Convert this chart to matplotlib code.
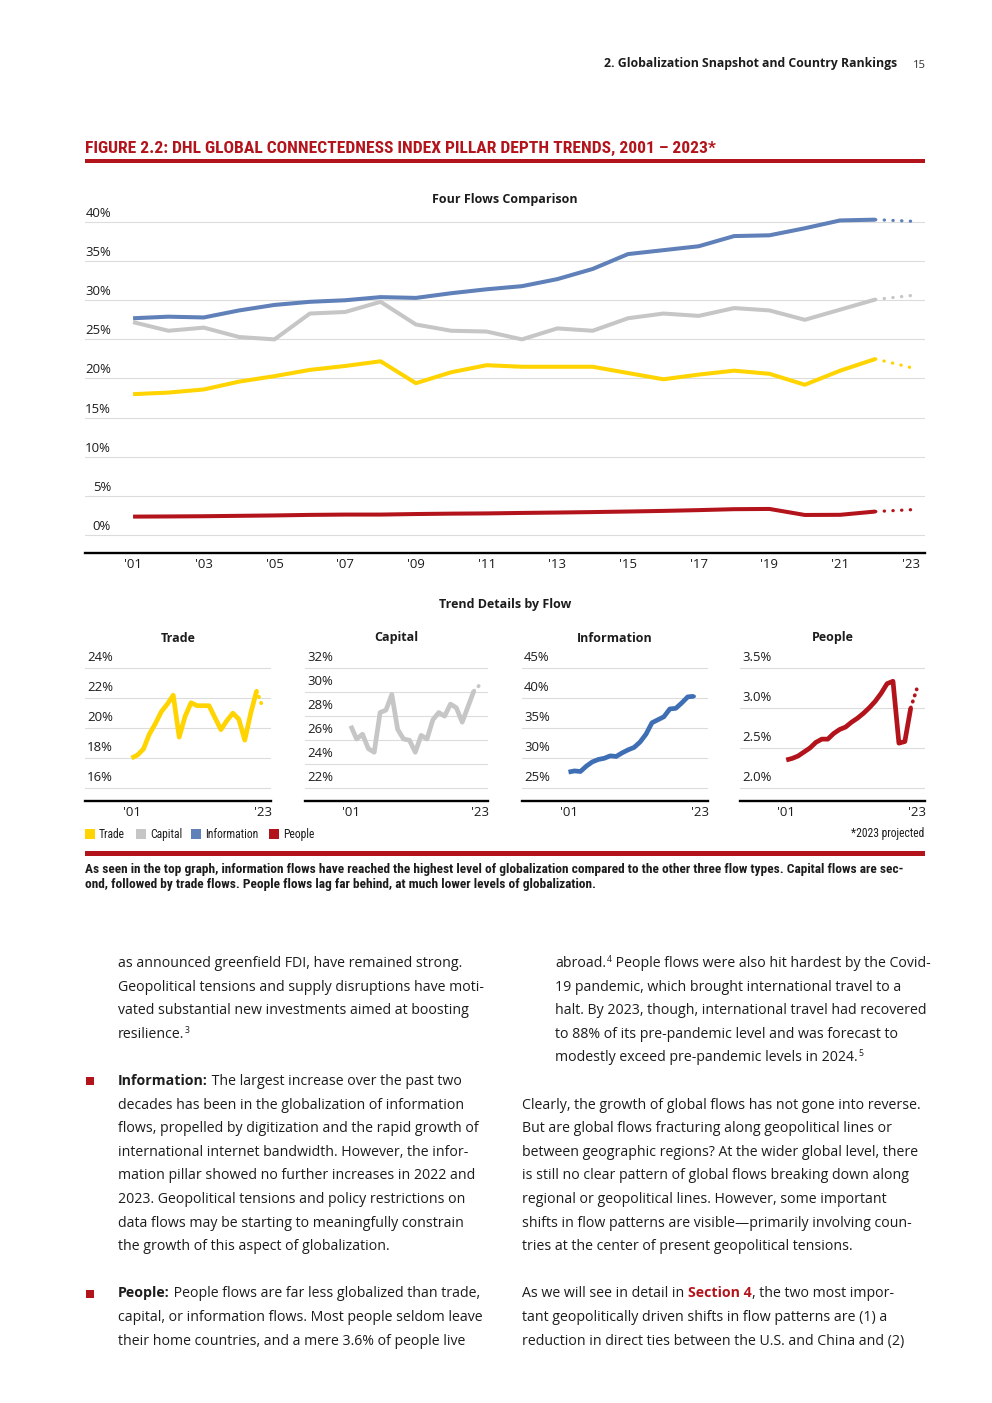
import matplotlib
matplotlib.use('Agg')
import matplotlib.pyplot as plt
import matplotlib.transforms as mtransforms
from matplotlib import font_manager as fm
from matplotlib.patches import Rectangle

# ---- data ----
years = list(range(2001, 2024))
trade = [18.0, 18.2, 18.6, 19.6, 20.3, 21.1, 21.6, 22.2, 19.4, 20.8, 21.7, 21.5,
         21.5, 21.5, 20.7, 19.9, 20.5, 21.0, 20.6, 19.2, 21.0, 22.5, 21.4]
capital = [27.2, 26.1, 26.5, 25.3, 25.0, 28.3, 28.5, 29.8, 26.9, 26.1, 26.0, 25.0,
           26.4, 26.1, 27.7, 28.3, 28.0, 29.0, 28.7, 27.5, 28.8, 30.1, 30.6]
information = [27.7, 27.9, 27.8, 28.7, 29.4, 29.8, 30.0, 30.4, 30.3, 30.9, 31.4, 31.8,
               32.7, 34.0, 35.9, 36.4, 36.9, 38.2, 38.3, 39.2, 40.2, 40.3, 40.1]
people = [2.35, 2.37, 2.40, 2.45, 2.50, 2.57, 2.61, 2.61, 2.68, 2.73, 2.76, 2.82,
          2.87, 2.93, 3.00, 3.08, 3.18, 3.30, 3.33, 2.56, 2.58, 3.00, 3.23]

series_names = ['Trade', 'Capital', 'Information', 'People']
series_values = [trade, capital, information, people]
main_colors = ['#FFD400', '#C6C6C6', '#5F80B8', '#B3141C']
small_colors = ['#FFD400', '#C6C6C6', '#3E6FB4', '#B3141C']

main_yticks = [0, 5, 10, 15, 20, 25, 30, 35, 40]
main_xticks = years[::2]
small_yticks = [[16, 18, 20, 22, 24],
                [22, 24, 26, 28, 30, 32],
                [25, 30, 35, 40, 45],
                [2.0, 2.5, 3.0, 3.5]]
small_ylims = [(15.13, 24.1), (20.95, 32.1), (22.9, 45.2), (1.84, 3.51)]
small_xticks = [2001, 2023]


# ---- fonts: pick installed files so bold / narrow really exist ----
def weight_of(f):
    w = f.weight
    if isinstance(w, str):
        w = fm.weight_dict.get(w, 400)
    return w


def is_narrow(f):
    return ('condensed' in str(f.stretch)) or ('Narrow' in f.name) or ('Condensed' in f.name)


def find_font(name, bold, narrow=False):
    for f in fm.fontManager.ttflist:
        if f.name != name or f.style != 'normal' or is_narrow(f) != narrow:
            continue
        w = weight_of(f)
        if (bold and 600 <= w <= 800) or (not bold and 380 <= w <= 450):
            return fm.FontProperties(fname=f.fname)
    return None


F = {}
for name in ['Noto Sans', 'Open Sans', 'Lato', 'Roboto', 'DejaVu Sans']:
    r, b = find_font(name, False), find_font(name, True)
    if r is not None and b is not None:
        F['reg'], F['bold'] = r, b
        break
for name in ['Liberation Sans Narrow', 'Roboto Condensed', 'Open Sans Condensed',
             'DejaVu Sans', 'Noto Sans', 'Open Sans']:
    b = find_font(name, True, narrow=True)
    if b is not None:
        F['nbold'] = b
        F['nreg'] = find_font(name, False, narrow=True) or b
        break
if 'nbold' not in F:
    F['nbold'] = find_font('Roboto', True) or F['bold']
    F['nreg'] = find_font('Roboto', False) or F['reg']

# ---- page setup ----
W, H = 992, 1403
fig = plt.figure(figsize=(W / 100, H / 100), dpi=100)
fig.patch.set_facecolor('white')
renderer = fig.canvas.get_renderer()

TXT = '#1c1c1c'
RED = '#B3141C'


def fp(font, size):
    p = F[font].copy()
    p.set_size(size)
    return p


def put(x, y, s, size, font='reg', color=TXT, ha='left', va='baseline'):
    return fig.text(x / W, 1 - y / H, s, fontproperties=fp(font, size),
                    color=color, ha=ha, va=va)


def text_width(s, size, font='reg'):
    t1 = fig.text(0, 0, '|' + s + '|', fontproperties=fp(font, size))
    t2 = fig.text(0, 0, '||', fontproperties=fp(font, size))
    w = t1.get_window_extent(renderer).width - t2.get_window_extent(renderer).width
    t1.remove()
    t2.remove()
    return w


def fit_size(s, width, font='reg'):
    return 10 * width / text_width(s, 10, font)


def put_runs(x, y, runs, size):
    for s, font, color in runs:
        if font == 'sup':
            put(x + 0.5, y - 5, s, size * 0.62, 'reg', color)
            x += text_width(s, size * 0.62, 'reg') + 0.5
        else:
            put(x, y, s, size, font, color)
            x += text_width(s, size, font)


def add_axes_px(left, top, right, bottom):
    return fig.add_axes([left / W, 1 - bottom / H, (right - left) / W, (bottom - top) / H])


def rect_px(x, y, w, h, color):
    fig.add_artist(Rectangle((x / W, 1 - (y + h) / H), w / W, h / H,
                             transform=fig.transFigure, color=color, lw=0))


def px_offset(dx, dy):
    return mtransforms.ScaledTranslation(dx / 100, dy / 100, fig.dpi_scale_trans)


def style_axes(ax):
    for side in ['top', 'left', 'right']:
        ax.spines[side].set_visible(False)
    ax.spines['bottom'].set_color('black')
    ax.spines['bottom'].set_linewidth(1.7)
    ax.tick_params(length=0, labelleft=False, labelbottom=False)
    ax.grid(axis='y', color='#DCDCDC', lw=0.8)
    ax.set_axisbelow(True)


def draw_series(ax, y, color, lw, gap=2.6):
    ax.plot(years[:-1], y[:-1], color=color, lw=lw, solid_capstyle='butt',
            solid_joinstyle='round', clip_on=False)
    ax.plot(years[-2:], y[-2:], color=color, lw=lw * 0.8, linestyle=(0, (0.1, gap)),
            dash_capstyle='round', clip_on=False)


# ---- header ----
hdr = '2. Globalization Snapshot and Country Rankings'
put(897, 67.5, hdr, fit_size(hdr, 294, 'bold'), 'bold', ha='right')
put(913, 67.5, '15', fit_size('15', 13), color='#333333')

title = 'FIGURE 2.2: DHL GLOBAL CONNECTEDNESS INDEX PILLAR DEPTH TRENDS, 2001 \u2013 2023*'
put(85, 153, title, fit_size(title, 629, 'nbold'), 'nbold', color=RED)
rect_px(85, 159, 840, 4, RED)

tick_size = fit_size('40%', 26)

# ---- main chart ----
ax = add_axes_px(85, 217.3, 925, 553)
style_axes(ax)
for vals, col in zip(series_values, main_colors):
    draw_series(ax, vals, col, 2.9)
ax.set_xlim(1999.64, 2023.4)
ax.set_ylim(-2.3, 40.6)
ax.set_yticks(main_yticks)
ax.set_xticks(main_xticks)
for v in main_yticks:
    ax.text(26 / 840, v, f'{v}%', transform=ax.get_yaxis_transform() + px_offset(0, 5),
            ha='right', va='baseline', fontproperties=fp('reg', tick_size), color=TXT)
for yr in main_xticks:
    ax.text(yr, 0, "'" + str(yr)[2:], transform=ax.get_xaxis_transform() + px_offset(0, -15.5),
            ha='center', va='baseline', fontproperties=fp('reg', tick_size), color=TXT)

head_size = fit_size('Four Flows Comparison', 145, 'bold')
put(505, 202.5, 'Four Flows Comparison', head_size, 'bold', ha='center')
put(505, 608.5, 'Trend Details by Flow', head_size, 'bold', ha='center')

# ---- small multiples ----
panels = [(85, 271), (305, 488), (522, 708), (740, 925)]
for i, (left, right) in enumerate(panels):
    sax = add_axes_px(left, 667.3 - 0.5, right, 801)
    style_axes(sax)
    draw_series(sax, series_values[i], small_colors[i], 3.4, gap=1.6)
    sax.set_xlim(1993.2, 2024.4)
    sax.set_ylim(*small_ylims[i])
    sax.set_yticks(small_yticks[i])
    sax.set_xticks(small_xticks)
    fmt = '{:.1f}%' if i == 3 else '{:.0f}%'
    for v in small_yticks[i]:
        sax.text(2 / (right - left), v, fmt.format(v),
                 transform=sax.get_yaxis_transform() + px_offset(0, 7),
                 ha='left', va='baseline', fontproperties=fp('reg', tick_size), color=TXT)
    for yr in small_xticks:
        sax.text(yr, 0, "'" + str(yr)[2:],
                 transform=sax.get_xaxis_transform() + px_offset(0, -14.5),
                 ha='center', va='baseline', fontproperties=fp('reg', tick_size), color=TXT)
    put((left + right) / 2, 641.5, series_names[i], head_size, 'bold', ha='center')

# ---- legend and notes ----
leg_size = fit_size('Information', 53, 'nreg')
leg_x = [85, 136, 191, 269]
for name, col, x in zip(series_names, main_colors, leg_x):
    rect_px(x, 829, 10, 10, col)
    put(x + 14, 838, name, leg_size, 'nreg')
put(924, 837, '*2023 projected', fit_size('*2023 projected', 73, 'nreg'), 'nreg', ha='right')
rect_px(85, 851, 840, 4.5, RED)

cap1 = ('As seen in the top graph, information flows have reached the highest level of '
        'globalization compared to the other three flow types. Capital flows are sec-')
cap2 = 'ond, followed by trade flows. People flows lag far behind, at much lower levels of globalization.'
cap_size = fit_size(cap1, 815, 'nbold')
put(85, 873.5, cap1, cap_size, 'nbold')
put(85, 887.5, cap2, cap_size, 'nbold')

# ---- body text ----
body_size = fit_size('Clearly, the growth of global flows has not gone into reverse.', 399)
N = 'reg'
B = 'bold'
S = 'sup'
left_col = [
    (118, [('as announced greenfield FDI, have remained strong.', N, TXT)]),
    (118, [('Geopolitical tensions and supply disruptions have moti-', N, TXT)]),
    (118, [('vated substantial new investments aimed at boosting', N, TXT)]),
    (118, [('resilience.', N, TXT), ('3', S, TXT)]),
    None,
    (118, [('Information:', B, TXT), (' The largest increase over the past two', N, TXT)]),
    (118, [('decades has been in the globalization of information', N, TXT)]),
    (118, [('flows, propelled by digitization and the rapid growth of', N, TXT)]),
    (118, [('international internet bandwidth. However, the infor-', N, TXT)]),
    (118, [('mation pillar showed no further increases in 2022 and', N, TXT)]),
    (118, [('2023. Geopolitical tensions and policy restrictions on', N, TXT)]),
    (118, [('data flows may be starting to meaningfully constrain', N, TXT)]),
    (118, [('the growth of this aspect of globalization.', N, TXT)]),
    None,
    (118, [('People:', B, TXT), (' People flows are far less globalized than trade,', N, TXT)]),
    (118, [('capital, or information flows. Most people seldom leave', N, TXT)]),
    (118, [('their home countries, and a mere 3.6% of people live', N, TXT)]),
]
right_col = [
    (555, [('abroad.', N, TXT), ('4', S, TXT), (' People flows were also hit hardest by the Covid-', N, TXT)]),
    (555, [('19 pandemic, which brought international travel to a', N, TXT)]),
    (555, [('halt. By 2023, though, international travel had recovered', N, TXT)]),
    (555, [('to 88% of its pre-pandemic level and was forecast to', N, TXT)]),
    (555, [('modestly exceed pre-pandemic levels in 2024.', N, TXT), ('5', S, TXT)]),
    None,
    (522, [('Clearly, the growth of global flows has not gone into reverse.', N, TXT)]),
    (522, [('But are global flows fracturing along geopolitical lines or', N, TXT)]),
    (522, [('between geographic regions? At the wider global level, there', N, TXT)]),
    (522, [('is still no clear pattern of global flows breaking down along', N, TXT)]),
    (522, [('regional or geopolitical lines. However, some important', N, TXT)]),
    (522, [('shifts in flow patterns are visible\u2014primarily involving coun-', N, TXT)]),
    (522, [('tries at the center of present geopolitical tensions.', N, TXT)]),
    None,
    (522, [('As we will see in detail in ', N, TXT), ('Section 4', B, RED),
           (', the two most impor-', N, TXT)]),
    (522, [('tant geopolitically driven shifts in flow patterns are (1) a', N, TXT)]),
    (522, [('reduction in direct ties between the U.S. and China and (2)', N, TXT)]),
]
for col in (left_col, right_col):
    for k, line in enumerate(col):
        if line is None:
            continue
        put_runs(line[0], 967 + k * 23.6, line[1], body_size)

rect_px(86, 1077, 8, 8, RED)
rect_px(86, 1289.5, 8, 8, RED)

fig.savefig('out.png', dpi=100, facecolor='white')
